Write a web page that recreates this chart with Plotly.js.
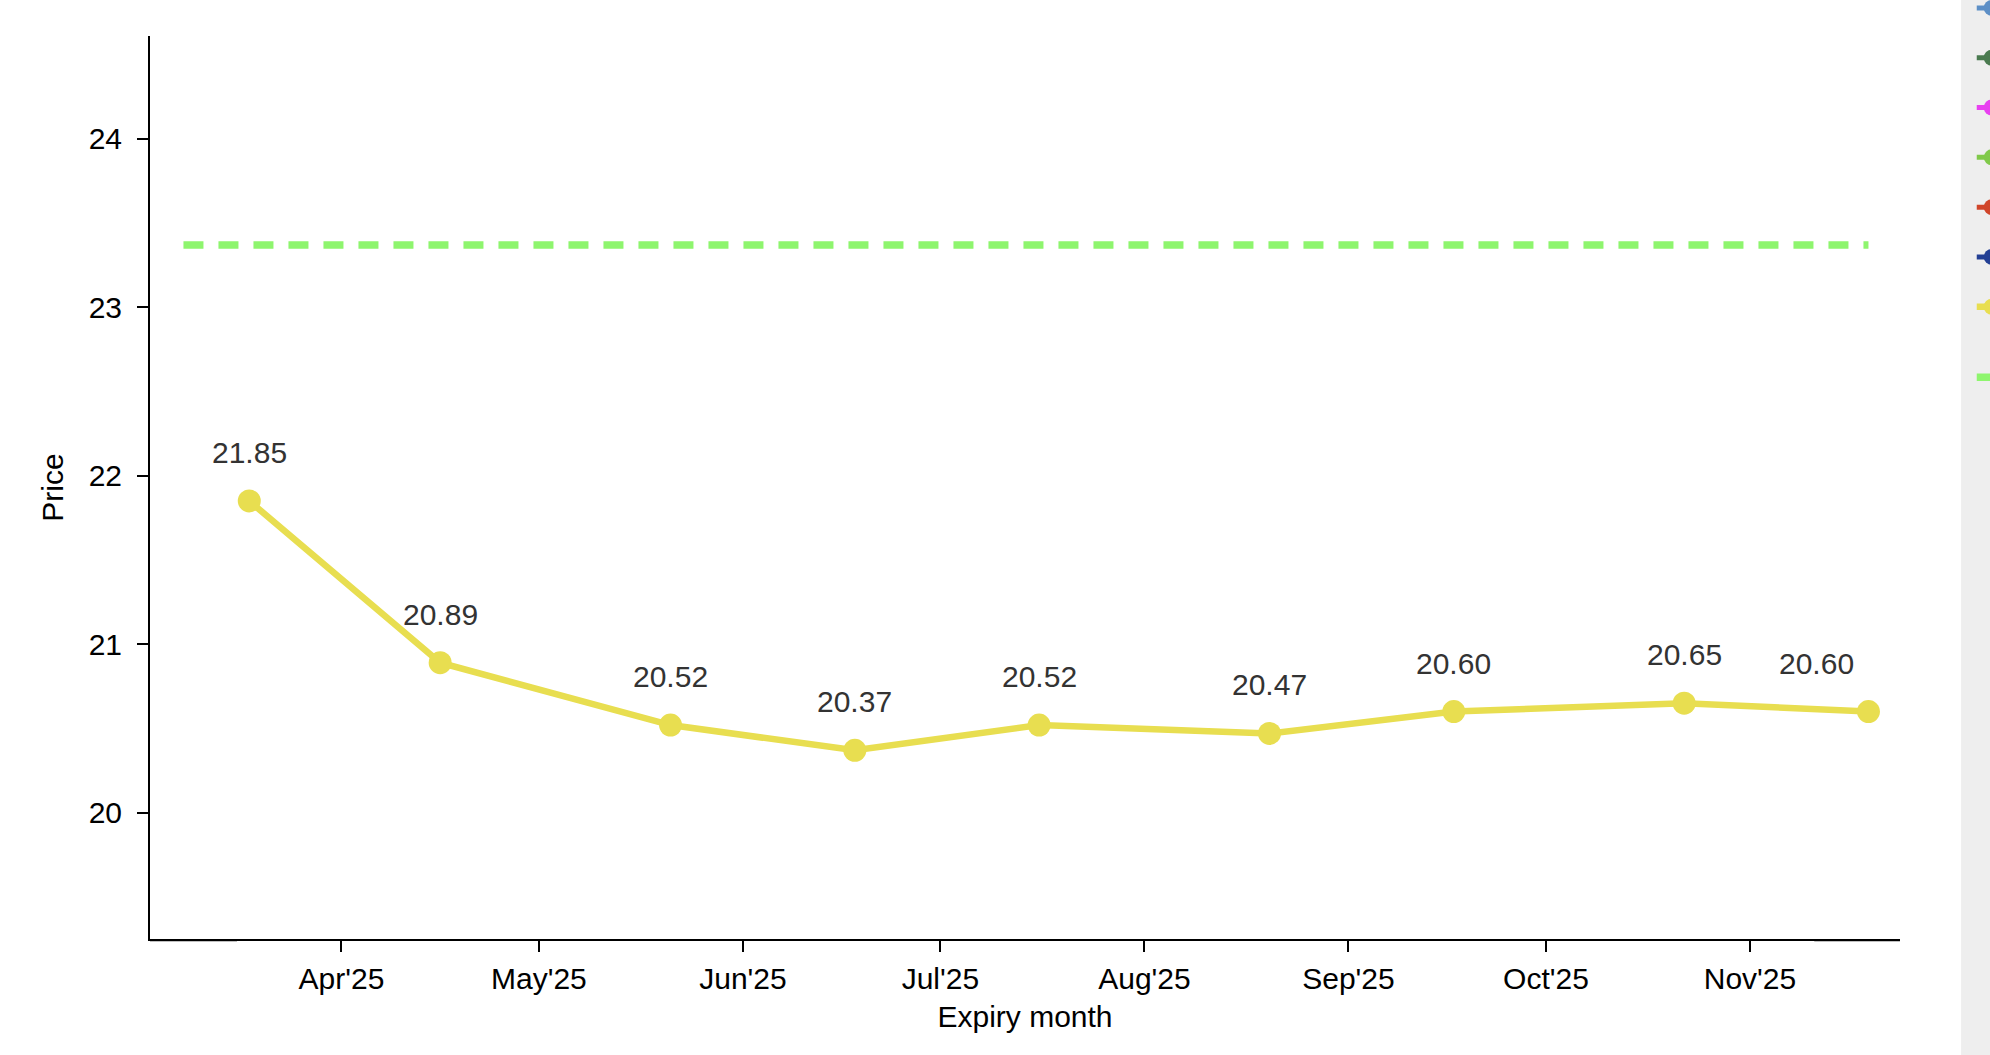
<!DOCTYPE html>
<html>
<head>
<meta charset="utf-8">
<script src="https://cdn.plot.ly/plotly-3.0.1.min.js"></script>
<style>
  html, body { margin: 0; padding: 0; overflow: hidden; background: #fff; }
  #plot { position: absolute; left: 0; top: -60px; width: 2300px; height: 1115px; }
</style>
</head>
<body>
<div id="plot"></div>
<script>
// futures curve, one point per expiry
const expiries = ["2025-03-18", "2025-04-16", "2025-05-21", "2025-06-18", "2025-07-16",
  "2025-08-20", "2025-09-17", "2025-10-22", "2025-11-19"];
const futPrices = [21.85, 20.89, 20.52, 20.37, 20.52, 20.47, 20.60, 20.65, 20.60];

// spot level drawn as a flat dashed line
const spotLevel = 23.37;
const spotSpan = ["2025-03-08", "2025-11-19"];

const tickDates = ["2025-04-01", "2025-05-01", "2025-06-01", "2025-07-01",
  "2025-08-01", "2025-09-01", "2025-10-01", "2025-11-01"];
const tickText = ["Apr'25", "May'25", "Jun'25", "Jul'25", "Aug'25", "Sep'25", "Oct'25", "Nov'25"];

// earlier curves, only their legend entries show
const otherCurves = ["Curve 1", "Curve 2", "Curve 3", "Curve 4", "Curve 5", "Curve 6"];
const otherColors = ["#5d8fc6", "#4a7a4f", "#e840f0", "#80c94a", "#d0452a", "#233f94"];

const yellow = "#e8de50";
const green = "#8ef56e";
const font = "Liberation Sans, Arial, sans-serif";

const traces = [];

otherCurves.forEach((name, i) => {
  traces.push({
    type: "scatter",
    mode: "lines+markers",
    x: [null],
    y: [null],
    name: name,
    legendgroup: "g" + i,
    line: { color: otherColors[i], width: 5 },
    marker: { color: otherColors[i], size: 20 },
    hoverinfo: "skip"
  });
});

traces.push({
  type: "scatter",
  mode: "lines+markers",
  x: expiries,
  y: futPrices,
  name: "Futures",
  legendgroup: "fut",
  line: { color: yellow, width: 6.5 },
  marker: { color: yellow, size: 23 }
});

traces.push({
  type: "scatter",
  mode: "lines",
  x: spotSpan,
  y: [spotLevel, spotLevel],
  name: "Spot<br>level<br>" + spotLevel.toFixed(2),
  legendgroup: "spot",
  line: { color: green, width: 7.5, dash: "20px,15px" },
  hoverinfo: "skip"
});

const labels = expiries.map((d, i) => ({
  x: d,
  y: futPrices[i],
  text: futPrices[i].toFixed(2),
  showarrow: false,
  yanchor: "bottom",
  yshift: 30,
  xshift: i === expiries.length - 1 ? -52 : 0,
  font: { family: font, size: 30, color: "#333333" }
}));

// the axis line is a touch heavier at both ends
const axisEnd = (x0, x1) => ({
  type: "line",
  xref: "paper",
  yref: "paper",
  ysizemode: "pixel",
  yanchor: 0,
  x0: x0,
  x1: x1,
  y0: -1.5,
  y1: -1.5,
  line: { color: "#000000", width: 1.5 }
});

const layout = {
  width: 2300,
  height: 1115,
  margin: { l: 150, r: 400, t: 96, b: 116, autoexpand: false },
  paper_bgcolor: "#ffffff",
  plot_bgcolor: "#ffffff",
  font: { family: font, color: "#000000" },
  showlegend: true,
  legend: {
    x: 1.041,
    xanchor: "left",
    y: 1.0498,
    yanchor: "top",
    bgcolor: "rgba(0,0,0,0)",
    traceorder: "grouped",
    tracegroupgap: 26,
    font: { size: 16 }
  },
  shapes: [{
    type: "rect",
    xref: "paper",
    yref: "paper",
    x0: 1.0349,
    x1: 1.4,
    y0: -0.3,
    y1: 1.3,
    fillcolor: "#eeeeee",
    line: { width: 0 },
    layer: "below"
  }, axisEnd(0, 0.0497), axisEnd(0.951, 1.0)],
  xaxis: {
    type: "date",
    range: ["2025-03-02 22:00", "2025-11-23 19:00"],
    tickvals: tickDates,
    ticktext: tickText,
    ticks: "outside",
    ticklen: 11,
    tickwidth: 2,
    tickcolor: "#000000",
    ticklabelstandoff: 1,
    showline: true,
    linewidth: 2,
    linecolor: "#000000",
    showgrid: false,
    zeroline: false,
    automargin: false,
    tickfont: { size: 30, color: "#000000" },
    title: { text: "Expiry month", standoff: 12, font: { size: 30, color: "#000000" } }
  },
  yaxis: {
    range: [19.25, 24.61],
    dtick: 1,
    ticks: "outside",
    ticklen: 11,
    tickwidth: 2,
    tickcolor: "#000000",
    ticklabelstandoff: 9,
    showline: true,
    linewidth: 2,
    linecolor: "#000000",
    showgrid: false,
    zeroline: false,
    automargin: false,
    tickfont: { size: 30, color: "#000000" },
    title: { text: "Price", standoff: 16, font: { size: 30, color: "#000000" } }
  },
  annotations: labels
};

Plotly.newPlot("plot", traces, layout, { displayModeBar: false, staticPlot: true });
</script>
</body>
</html>
